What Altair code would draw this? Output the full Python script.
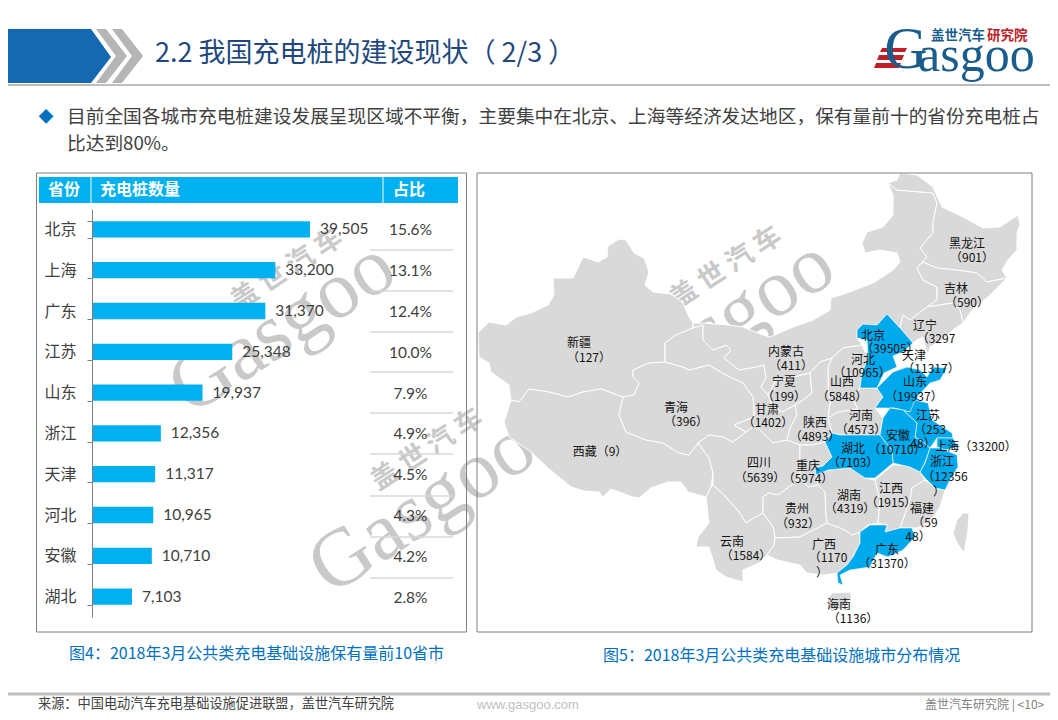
import altair as alt

FONT = "Noto Sans CJK SC"
provinces = ["北京", "上海", "广东", "江苏", "山东", "浙江", "天津", "河北", "安徽", "湖北"]
counts = [39505, 33200, 31370, 25348, 19937, 12356, 11317, 10965, 10710, 7103]
shares = ["15.6%", "13.1%", "12.4%", "10.0%", "7.9%", "4.9%", "4.5%", "4.3%", "4.2%", "2.8%"]

grey_regions = {
    "新疆": [(478,333),(489,322),(506,325),(516,317),(531,313),(548,305),(554,295),(553,278),(573,278),(583,257),(598,262),(607,257),(608,246),(619,239),(626,240),(634,253),(644,258),(649,272),(645,285),(653,292),(671,294),(683,303),(689,317),(693,323),(693,328),(676,335),(665,343),(665,362),(649,363),(633,370),(633,377),(639,383),(634,395),(623,397),(601,389),(583,392),(568,397),(549,392),(529,389),(519,402),(511,400),(509,385),(491,372),(489,363),(479,357)],
    "西藏": [(623,397),(619,415),(626,432),(646,440),(663,443),(679,453),(689,455),(698,443),(709,458),(713,473),(711,487),(706,497),(688,492),(681,482),(668,482),(651,488),(639,498),(633,497),(611,489),(603,497),(599,492),(584,491),(571,487),(554,473),(548,468),(531,452),(509,437),(504,422),(511,400),(519,402),(529,389),(549,392),(568,397),(583,392),(601,389)],
    "青海": [(665,362),(683,367),(689,370),(709,365),(726,375),(743,383),(753,397),(754,410),(754,417),(734,425),(746,432),(733,442),(723,437),(709,435),(698,443),(689,455),(679,453),(663,443),(646,440),(626,432),(619,415),(623,397),(634,395),(639,383),(633,377),(633,370),(649,363)],
    "甘肃": [(693,328),(703,325),(703,340),(713,350),(726,345),(731,350),(724,358),(739,370),(756,367),(764,365),(766,378),(761,387),(768,395),(772,405),(782,412),(795,405),(797,415),(790,428),(787,440),(773,443),(755,425),(746,432),(734,425),(754,417),(754,410),(753,397),(743,383),(726,375),(709,365),(689,370),(683,367),(665,362),(665,343),(676,335)],
    "内蒙古": [(693,323),(703,323),(729,325),(743,327),(763,335),(770,337),(793,327),(813,320),(830,310),(831,298),(847,293),(873,283),(893,270),(900,262),(897,253),(880,250),(865,253),(862,243),(867,232),(883,227),(893,215),(893,195),(888,183),(897,190),(933,193),(937,203),(933,223),(933,233),(920,248),(927,257),(917,268),(923,280),(937,287),(937,300),(927,307),(910,320),(903,315),(900,328),(887,314),(877,325),(863,324),(857,330),(857,338),(862,345),(843,348),(832,358),(820,362),(810,373),(790,378),(775,382),(768,395),(761,387),(766,378),(764,365),(756,367),(739,370),(724,358),(731,350),(726,345),(713,350),(703,340),(703,325),(693,328)],
    "黑龙江": [(888,183),(897,180),(900,173),(917,175),(933,187),(942,207),(963,217),(983,228),(1000,227),(1018,215),(1020,225),(1017,233),(1017,250),(1008,260),(1002,270),(1007,278),(987,282),(977,273),(957,270),(937,268),(923,262),(917,268),(927,257),(920,248),(933,233),(933,223),(937,203),(933,193),(897,190)],
    "吉林": [(917,268),(923,262),(937,268),(957,270),(977,273),(987,282),(1007,278),(990,295),(972,310),(963,323),(960,310),(953,303),(927,307),(937,300),(937,287),(923,280)],
    "辽宁": [(903,315),(910,320),(927,307),(953,303),(960,310),(963,323),(953,330),(942,340),(930,347),(928,357),(925,345),(923,337),(917,340),(913,343),(900,328)],
    "宁夏": [(768,395),(775,382),(790,378),(810,373),(812,393),(803,400),(795,405),(782,412),(772,405)],
    "山西": [(832,358),(843,348),(862,345),(868,358),(862,373),(860,388),(852,398),(858,409),(838,412),(828,418),(830,403),(828,387),(828,367)],
    "陕西": [(832,358),(828,367),(828,387),(830,403),(828,418),(832,433),(825,442),(812,445),(800,445),(787,440),(790,428),(797,415),(795,405),(803,400),(812,393),(810,373),(820,362)],
    "河南": [(828,418),(838,412),(858,409),(852,398),(860,388),(877,388),(883,397),(875,408),(883,418),(880,435),(860,436),(840,435),(832,433)],
    "四川": [(698,443),(709,435),(723,437),(733,442),(746,432),(755,425),(773,443),(787,440),(800,445),(800,478),(785,490),(778,495),(769,493),(763,497),(763,513),(754,518),(746,523),(739,512),(724,495),(713,485),(713,473),(709,458)],
    "重庆": [(800,445),(812,445),(825,442),(832,457),(823,466),(816,468),(818,485),(808,487),(800,478)],
    "贵州": [(785,490),(800,478),(808,487),(818,485),(825,492),(826,515),(827,523),(800,537),(775,538),(773,527),(763,513),(763,497),(769,493),(778,495)],
    "云南": [(706,497),(711,487),(713,485),(724,495),(739,512),(746,523),(754,518),(763,513),(773,527),(775,538),(774,545),(767,555),(759,563),(743,570),(743,582),(726,577),(716,570),(709,547),(696,547),(698,537),(709,523)],
    "广西": [(775,538),(800,537),(827,523),(845,530),(852,535),(860,532),(860,543),(853,557),(847,565),(837,573),(823,575),(807,573),(800,565),(777,560),(767,555),(774,545)],
    "湖南": [(828,470),(850,468),(865,478),(875,480),(880,500),(878,523),(868,525),(860,532),(852,535),(845,530),(827,523),(826,515),(825,492),(818,485),(816,468)],
    "江西": [(875,480),(893,465),(903,465),(910,467),(920,472),(925,480),(912,488),(910,500),(902,523),(900,528),(885,532),(887,525),(878,523),(880,500)],
    "福建": [(925,480),(935,488),(945,490),(940,507),(930,522),(917,528),(912,528),(900,528),(902,523),(910,500),(912,488)],
    "台湾": [(963,513),(969,513),(968,530),(964,553),(957,543),(953,533),(957,520)],
    "海南": [(832,593),(850,592),(852,597),(842,608),(832,612),(827,607),(827,600)],
}
blue_regions = {
    "河北": [(887,314),(900,328),(913,343),(903,352),(893,356),(897,367),(884,373),(877,388),(860,388),(862,373),(868,358),(867,340),(857,338),(857,330),(863,324),(877,325)],
    "山东": [(877,388),(893,372),(907,367),(920,370),(927,377),(933,367),(947,368),(940,380),(930,383),(917,397),(920,403),(910,412),(893,408),(875,408),(883,397)],
    "江苏": [(893,408),(910,412),(915,400),(928,403),(932,420),(952,433),(953,438),(937,438),(930,448),(923,442),(915,437),(917,423),(903,410)],
    "上海": [(953,438),(958,447),(945,450),(937,447),(937,438)],
    "浙江": [(930,448),(940,448),(957,455),(958,467),(950,480),(945,490),(935,488),(925,478),(920,472),(925,463)],
    "安徽": [(883,418),(890,408),(903,410),(917,423),(915,437),(923,442),(930,448),(925,462),(920,472),(910,467),(893,463),(892,450),(885,442),(880,435)],
    "湖北": [(832,433),(840,435),(880,435),(885,442),(892,450),(893,463),(875,478),(865,478),(850,468),(828,470),(816,475),(815,468),(823,466),(832,457),(825,442)],
    "广东": [(860,532),(870,525),(887,525),(885,532),(900,528),(912,528),(915,537),(903,550),(888,557),(877,553),(870,567),(850,570),(840,575),(843,585),(838,583),(837,573),(847,565),(853,557),(860,543)],
}
header_shapes = [
    ("#1469B0", [(0,29),(91,29),(111,57),(91,83),(0,83)]),
    ("#B5B5B5", [(96,29),(106,29),(127,56),(106,83),(96,83),(116,56)]),
    ("#B5B5B5", [(112,29),(122,29),(143,56),(122,83),(112,83),(132,56)]),
    ("#BE2026", [(882,48),(907,48),(905,52),(880,52)]),
    ("#BE2026", [(879,55),(904,55),(902,60),(877,60)]),
    ("#BE2026", [(876,63),(901,63),(899,68),(874,68)]),
]

map_labels = [
    ("黑龙江",967,244),("（901）",972,258),("吉林",956,289),("（590）",967,303),("辽宁",925,326),("（3297",936,339),
    ("北京",873,336),("（39505）",890,349),("天津",914,356),("（11317）",931,369),("河北",863,360),("（10965）",862,373),
    ("内蒙古",786,352),("（411）",791,366),("宁夏",784,382),("（199）",784,397),("山西",842,382),("（5848）",842,397),
    ("山东",915,382),("（19937）",914,397),("新疆",579,343),("（127）",589,358),("青海",676,408),("（396）",686,422),
    ("西藏（9）",600,452),("甘肃",767,410),("（1402）",768,423),("四川",759,463),("（5639）",760,478),("云南",732,542),
    ("（1584）",746,556),("陕西",815,423),("（4893）",815,437),("河南",861,416),("（4573）",861,430),("江苏",928,416),
    ("（253",930,430),("48）",923,444),("安徽",898,436),("（10710）",897,450),("上海（33200）",976,447),("湖北",853,449),
    ("（7103）",853,463),("重庆",808,466),("（5974）",808,479),("浙江",942,462),("（12356",945,477),("）",939,492),
    ("湖南",849,496),("（4319）",850,509),("江西",891,489),("（1915）",891,503),("福建",922,509),("（59",925,523),
    ("48）",918,537),("贵州",797,509),("（932）",798,524),("广西",824,545),("（1170",828,558),("）",822,573),
    ("广东",887,550),("（31370）",887,564),("海南",839,605),("（1136）",853,619),
]

X = alt.Scale(domain=[8, 1050], range=[0, 1042])
Y = alt.Scale(domain=[8, 712], range=[0, 704])


def feature(pts, fill="#000"):
    ring = [list(p) for p in pts]
    if ring[0] != ring[-1]:
        ring.append(ring[0])
    return {"type": "Feature", "properties": {"fill": fill},
            "geometry": {"type": "Polygon", "coordinates": [ring[::-1]]}}


def shapes(feats, stroke=None, sw=0):
    kw = dict(strokeWidth=sw)
    if stroke:
        kw["stroke"] = stroke
    return alt.Chart(alt.Data(values=feats)).mark_geoshape(**kw).encode(
        fill=alt.Fill("properties.fill:N", scale=None)
    ).project(type="identity", scale=1, translate=[-8, -8])


def texts(rows, size, color="#404040", font=FONT, align="center", weight="normal", angle=None):
    kw = dict(fontSize=size, color=color, font=font, align=align, baseline="middle", fontWeight=weight)
    if angle is not None:
        kw["angle"] = angle
    data = alt.Data(values=[{"t": t, "x": x, "y": y} for t, x, y in rows])
    return alt.Chart(data).mark_text(**kw).encode(
        x=alt.X("x:Q", scale=X, axis=None), y=alt.Y("y:Q", scale=Y, axis=None), text="t:N")


def rects(rows, **kw):
    data = alt.Data(values=[{"a": a, "b": b, "c": c, "d": d} for a, b, c, d in rows])
    return alt.Chart(data).mark_rect(**kw).encode(
        x=alt.X("a:Q", scale=X, axis=None), x2="b:Q",
        y=alt.Y("c:Q", scale=Y, axis=None), y2="d:Q")


def hrules(rows, color, width):
    data = alt.Data(values=[{"a": a, "b": b, "c": c} for a, b, c in rows])
    return alt.Chart(data).mark_rule(color=color, strokeWidth=width).encode(
        x=alt.X("a:Q", scale=X, axis=None), x2="b:Q", y=alt.Y("c:Q", scale=Y, axis=None))


WM = "#C9C9C9"
wm_layers = [texts([("Gasgoo", cx, cy)], 82, WM, "Liberation Serif", angle=327) for cx, cy in [(282, 327), (422, 507), (721, 325)]]
wm_layers += [texts([("盖 世 汽 车", cx, cy)], 27, WM, FONT, weight="bold", angle=327) for cx, cy in [(287, 270), (427, 450), (726, 268)]]

rows = [{"p": p, "v": v, "s": s} for p, v, s in zip(provinces, counts, shares)]
band = alt.Scale(domain=provinces, range=[201, 609], paddingInner=0.6, paddingOuter=0.3)
vx = alt.Scale(domain=[0, 39505], range=[85, 302])
base = alt.Chart(alt.Data(values=rows))
yaxis = alt.Axis(title=None, offset=-84, domainColor="#7F7F7F", tickColor="#7F7F7F", tickBand="extent", tickSize=5,
                 labelFont=FONT, labelFontSize=16, labelColor="#404040", labelPadding=11, grid=False)
bars = base.mark_bar(color="#00B0F0").encode(
    x=alt.X("v:Q", scale=vx, axis=None),
    y=alt.Y("p:N", scale=band, axis=yaxis, sort=provinces),
)
bar_labels = base.mark_text(align="left", baseline="middle", dx=10, fontSize=15.5, font="Lato", color="#404040").encode(
    x=alt.X("v:Q", scale=vx, axis=None),
    y=alt.Y("p:N", scale=band, axis=None, sort=provinces),
    text=alt.Text("v:Q", format=","),
)
share_labels = base.mark_text(align="center", baseline="middle", dy=1, fontSize=15.5, font="Lato", color="#404040").encode(
    x=alt.value(402.5),
    y=alt.Y("p:N", scale=band, axis=None, sort=provinces),
    text="s:N",
)
sep_y = [250, 291, 332, 372, 413, 454, 496, 537, 578]

chart = alt.layer(
    *wm_layers,
    shapes([feature(v, "#D9D9D9") for v in grey_regions.values()], "#FFFFFF", 1),
    shapes([feature(v, "#00A9EC") for v in blue_regions.values()], "#FFFFFF", 0.6),
    shapes([feature(p, c) for c, p in header_shapes]),
    hrules([(8, 1050, 85)], "#BDBDBD", 2),
    hrules([(8, 1050, 694)], "#BDBDBD", 3),
    rects([(36.5, 466.5, 173, 632), (477, 1032, 173, 632)], fillOpacity=0, stroke="#7F7F7F", strokeWidth=1),
    rects([(39, 458, 177, 203)], color="#00B0F0"),
    hrules([(370, 453, y) for y in sep_y], "#D9D9D9", 1.5),
    alt.Chart(alt.Data(values=[{"x": 91}, {"x": 383}])).mark_rule(color="#FFFFFF", strokeWidth=1).encode(
        x=alt.X("x:Q", scale=X, axis=None), y=alt.value(169), y2=alt.value(195)),
    bars, bar_labels, share_labels,
    texts([("省份", 64, 190), ("占比", 409, 190)], 16, "#FFFFFF", weight="bold"),
    texts([("充电桩数量", 100, 190)], 16, "#FFFFFF", align="left", weight="bold"),
    texts([("2.2 我国充电桩的建设现状（ 2/3 ）", 155, 54)], 27, "#1F497D", align="left"),
    texts([("目前全国各城市充电桩建设发展呈现区域不平衡，主要集中在北京、上海等经济发达地区，保有量前十的省份充电桩占", 67, 117),
           ("比达到80%。", 67, 144)], 18.72, "#404040", align="left"),
    texts([("◆", 46, 117)], 15, "#0070C0"),
    texts([("图4：2018年3月公共类充电基础设施保有量前10省市", 69, 654)], 16, "#0070C0", align="left"),
    texts([("图5：2018年3月公共类充电基础设施城市分布情况", 603, 656)], 16, "#0070C0", align="left"),
    texts([("来源：中国电动汽车充电基础设施促进联盟，盖世汽车研究院", 38, 704)], 13.2, "#404040", align="left"),
    texts([("www.gasgoo.com", 477, 705)], 13, "#BFBFBF", "Liberation Sans", align="left"),
    texts([("盖世汽车研究院 | <10>", 925, 705)], 12, "#7F7F7F", align="left"),
    texts([(t, x, y) for t, x, y in map_labels], 12, "#111111"),
    texts([("G", 906, 50)], 60, "#1A5C8C", "Liberation Serif"),
    texts([("asgoo", 918, 56)], 50, "#1A5C8C", "Liberation Serif", align="left"),
    texts([("盖世汽车", 931, 36)], 13.5, "#1A5C8C", align="left", weight="bold"),
    texts([("研究院", 987, 36)], 13.5, "#BE2026", align="left", weight="bold"),
).resolve_scale(x="independent", y="independent").properties(
    width=1042, height=704, padding=0, autosize=alt.AutoSizeParams(type="none"),
).configure_view(stroke=None)

chart.save("out.html", embed_options={"renderer": "svg", "actions": False})
